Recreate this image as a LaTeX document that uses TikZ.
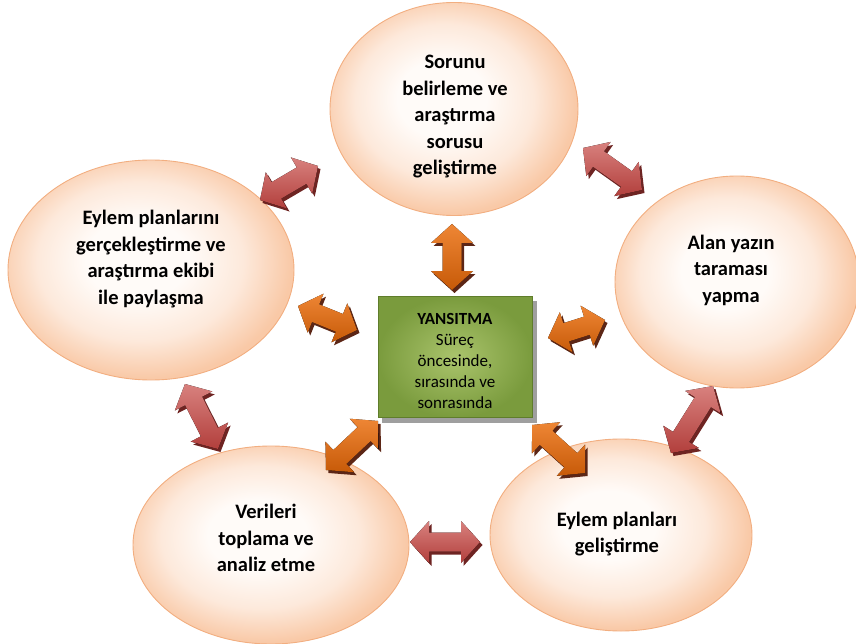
\documentclass[tikz,border=0pt]{standalone}
\usepackage{fontspec}
\setmainfont{Carlito}
\usetikzlibrary{calc,shapes.geometric}

\definecolor{peachin}{HTML}{FFFBF8}
\definecolor{peachmid}{HTML}{FDE9DB}
\definecolor{peachout}{HTML}{F9C9A7}
\definecolor{peachline}{HTML}{F2AE80}
\definecolor{redtop}{HTML}{D8817E}
\definecolor{redbot}{HTML}{B23F3C}
\definecolor{redshadow}{HTML}{6E2422}
\definecolor{orgtop}{HTML}{EE8635}
\definecolor{orgbot}{HTML}{C75A08}
\definecolor{orgshadow}{HTML}{5C2616}
\definecolor{greenin}{HTML}{AAC46C}
\definecolor{greenout}{HTML}{7A9B3D}
\definecolor{greenline}{HTML}{5F7D2B}

% soft peach ball for the phase ellipses
\pgfdeclareradialshading{peachball}{\pgfpoint{-3bp}{3bp}}{%
  color(0bp)=(peachin); color(9bp)=(peachin); color(18bp)=(peachmid);
  color(26bp)=(peachout); color(50bp)=(peachout)}

% block double arrow dimensions
\def\headl{19pt}
\def\headw{21pt}
\def\shaftw{9.5pt}

% outline of a double-headed block arrow from #1 to #2 (needs ap1, ap2)
\newcommand\arrowoutline[2]{(#1) -- ($(ap1)!\headw!90:(#2)$) -- ($(ap1)!\shaftw!90:(#2)$)
  -- ($(ap2)!\shaftw!-90:(#1)$) -- ($(ap2)!\headw!-90:(#1)$) -- (#2)
  -- ($(ap2)!\headw!90:(#1)$) -- ($(ap2)!\shaftw!90:(#1)$)
  -- ($(ap1)!\shaftw!-90:(#2)$) -- ($(ap1)!\headw!-90:(#2)$) -- cycle}

% #1 fill style, #2 shadow colour, #3 start, #4 end
\newcommand\blockarrow[4]{%
  \coordinate (ap1) at ($(#3)!\headl!(#4)$);
  \coordinate (ap2) at ($(#4)!\headl!(#3)$);
  \fill[#2, transform canvas={shift={(2.5pt,-3pt)}}] \arrowoutline{#3}{#4};
  \fill[#1] \arrowoutline{#3}{#4};
}

\begin{document}
\begin{tikzpicture}[x=1pt,y=-1pt,
  phase/.style={ellipse, draw=peachline, line width=0.9pt, inner sep=0pt,
    shading=peachball},
  lbl/.style={align=center, font=\bfseries\fontsize{20.5}{26.5}\selectfont},
  centertxt/.style={align=center, font=\fontsize{17}{21}\selectfont},
  redarrow/.style={top color=redtop, bottom color=redbot},
  orgarrow/.style={top color=orgtop, bottom color=orgbot}]
\useasboundingbox (0,0) rectangle (856,644);

% phases of the cycle
\node[phase, minimum width=248pt, minimum height=213pt] (sorun) at (454,109) {};
\node[phase, minimum width=286pt, minimum height=220pt] (gercek) at (151,270) {};
\node[phase, minimum width=244pt, minimum height=212pt] (alan) at (737,282) {};
\node[phase, minimum width=276pt, minimum height=198pt] (veri) at (271,545) {};
\node[phase, minimum width=262pt, minimum height=192pt] (plan) at (621,535) {};

\node[lbl] (sorunt) at (455,117) {Sorunu\\belirleme ve\\araştırma\\sorusu\\geliştirme};
\node[lbl] (gercekt) at (151,259) {Eylem planlarını\\gerçekleştirme ve\\araştırma ekibi\\ile paylaşma};
\node[lbl] (alant) at (731,270) {Alan yazın\\taraması\\yapma};
\node[lbl] (verit) at (266,538) {Verileri\\toplama ve\\analiz etme};
\node[lbl] (plant) at (617,534) {Eylem planları\\geliştirme};

% central reflection box
\fill[gray!75] (382,301) rectangle (537,423);
\node[draw=greenline, line width=0.6pt, inner color=greenin, outer color=greenout,
  minimum width=154pt, minimum height=121pt, inner sep=0pt] (yans) at (455,357) {};
\node[centertxt] (yanst) at (455,361) {\textbf{YANSITMA}\\Süreç\\öncesinde,\\sırasında ve\\sonrasında};

% arrow end points
\coordinate (r1a) at (260,200); \coordinate (r1b) at (318,166);
\coordinate (r2a) at (583,148); \coordinate (r2b) at (642,190);
\coordinate (r3a) at (713,386); \coordinate (r3b) at (671,453);
\coordinate (r4a) at (410,542); \coordinate (r4b) at (480,542);
\coordinate (r5a) at (185,384); \coordinate (r5b) at (218,449);
\coordinate (o1a) at (452,224); \coordinate (o1b) at (452,290);
\coordinate (o2a) at (298,306); \coordinate (o2b) at (357,330);
\coordinate (o3a) at (548,338); \coordinate (o3b) at (605,320);
\coordinate (o4a) at (326,470); \coordinate (o4b) at (378,421);
\coordinate (o5a) at (532,425); \coordinate (o5b) at (585,473);

% arrows between neighbouring phases
\blockarrow{redarrow}{redshadow}{r1a}{r1b}
\blockarrow{redarrow}{redshadow}{r2a}{r2b}
\blockarrow{redarrow}{redshadow}{r3a}{r3b}
\blockarrow{redarrow}{redshadow}{r4a}{r4b}
\blockarrow{redarrow}{redshadow}{r5a}{r5b}

% arrows between the centre and each phase
\blockarrow{orgarrow}{orgshadow}{o1a}{o1b}
\blockarrow{orgarrow}{orgshadow}{o2a}{o2b}
\blockarrow{orgarrow}{orgshadow}{o3a}{o3b}
\blockarrow{orgarrow}{orgshadow}{o4a}{o4b}
\blockarrow{orgarrow}{orgshadow}{o5a}{o5b}
\end{tikzpicture}
\end{document}
